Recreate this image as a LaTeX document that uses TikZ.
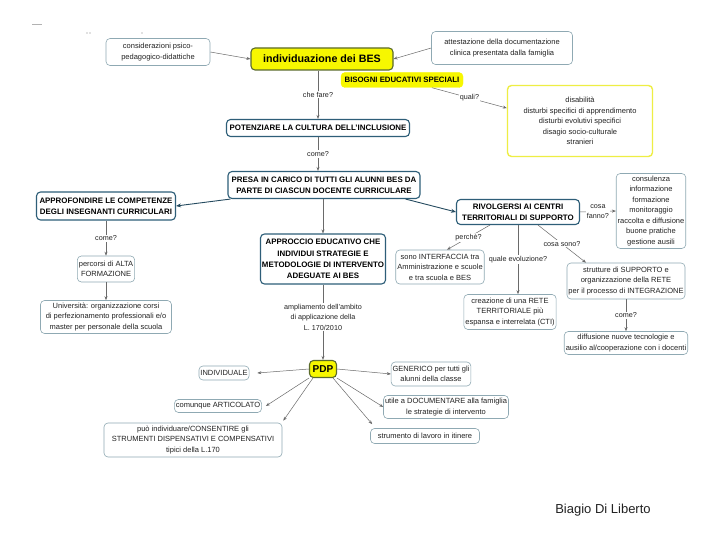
\documentclass[tikz,border=0pt]{standalone}
\usepackage{fontspec}
\setmainfont{Liberation Sans}
\usetikzlibrary{arrows.meta}
\definecolor{boxline}{HTML}{8FA9B3}
\definecolor{headline}{HTML}{2E5E78}
\definecolor{yel}{HTML}{F7F700}
\definecolor{yelline}{HTML}{5B6B2C}
\definecolor{yelborder}{HTML}{EEEE44}
\definecolor{conncol}{HTML}{6A6A6A}
\definecolor{txt}{HTML}{222222}
\begin{document}
\begin{tikzpicture}[x=1pt,y=-1pt,
 sbox/.style={draw=boxline, line width=0.6pt, rounded corners=4pt, fill=white, align=center, text=txt, font=\fontsize{7.5}{10.5}\selectfont, inner xsep=1.5pt, inner ysep=1.5pt},
 hbox/.style={draw=headline, line width=1.1pt, rounded corners=4pt, fill=white, align=center, text=black, font=\bfseries\fontsize{7.9}{11.2}\selectfont, inner xsep=1.5pt, inner ysep=1.5pt},
 ybox/.style={draw=yelline, line width=1.1pt, rounded corners=4pt, fill=yel, align=center, text=black, font=\bfseries\fontsize{10.7}{12}\selectfont, inner xsep=2pt, inner ysep=2pt},
 lbl/.style={fill=white, inner sep=1pt, text=txt, font=\fontsize{7.2}{10.5}\selectfont, align=center},
 conn/.style={draw=conncol, line width=0.5pt, -{Stealth[length=4pt,width=3pt]}},
 hconn/.style={draw=headline!80!black, line width=0.9pt, -{Stealth[length=5pt,width=4pt]}},
]
\useasboundingbox (0,0) rectangle (720,540);
\fill[white] (0,0) rectangle (720,540);
% small marks top left
\draw[gray!60, line width=0.5pt] (32,24) -- (42,24);
\fill[gray] (87,33) circle (0.6) (90,33) circle (0.6) (142,33) circle (0.6);

\node[sbox, minimum width=104, minimum height=27] (cons) at (158,52) {considerazioni psico-\\pedagogico-didattiche};
\node[ybox, minimum width=142, minimum height=22] (ind) at (322,59) {individuazione dei BES};
\node[sbox, minimum width=141, minimum height=33] (att) at (502,48) {attestazione della documentazione\\clinica presentata dalla famiglia};
\node[fill=yel, draw=yel, rounded corners=4pt, minimum width=122, minimum height=15, inner sep=1pt, font=\bfseries\fontsize{7.8}{9}\selectfont] (bis) at (402,80) {BISOGNI EDUCATIVI SPECIALI};
\node[sbox, draw=yelborder, line width=1.4pt, minimum width=145, minimum height=71] (dis) at (580,121) {disabilità\\disturbi specifici di apprendimento\\disturbi evolutivi specifici\\disagio socio-culturale\\stranieri};
\node[hbox, minimum width=183, minimum height=17] (pot) at (318,128) {POTENZIARE LA CULTURA DELL'INCLUSIONE};
\node[hbox, minimum width=192, minimum height=27] (pre) at (324,185) {PRESA IN CARICO DI TUTTI GLI ALUNNI BES DA\\PARTE DI CIASCUN DOCENTE CURRICULARE};
\node[hbox, minimum width=139, minimum height=28] (appr) at (106,206) {APPROFONDIRE LE COMPETENZE\\DEGLI INSEGNANTI CURRICULARI};
\node[sbox, minimum width=56, minimum height=26] (perc) at (106,269) {percorsi di ALTA\\FORMAZIONE};
\node[sbox, minimum width=131, minimum height=33] (uni) at (106,317) {Università: organizzazione corsi\\di perfezionamento professionali e/o\\master per personale della scuola};
\node[hbox, minimum width=125, minimum height=50] (acc) at (323,259) {APPROCCIO EDUCATIVO CHE\\INDIVIDUI STRATEGIE E\\METODOLOGIE DI INTERVENTO\\ADEGUATE AI BES};
\node[ybox, font=\bfseries\fontsize{10}{11}\selectfont, minimum width=27, minimum height=17] (pdp) at (323,369) {PDP};
\node[hbox, minimum width=123, minimum height=25] (riv) at (518,212) {RIVOLGERSI AI CENTRI\\TERRITORIALI DI SUPPORTO};
\node[sbox, minimum width=69, minimum height=75] (cst) at (651,211) {consulenza\\informazione\\formazione\\monitoraggio\\raccolta e diffusione\\buone pratiche\\gestione ausili};
\node[sbox, minimum width=86, minimum height=34] (intf) at (440,267) {sono INTERFACCIA tra\\Amministrazione e scuole\\e tra scuola e BES};
\node[sbox, minimum width=85, minimum height=35] (cre) at (510,312) {creazione di una RETE\\TERRITORIALE più\\espansa e interrelata (CTI)};
\node[sbox, minimum width=115, minimum height=36] (strt) at (626,281) {strutture di SUPPORTO e\\organizzazione della RETE\\per il processo di INTEGRAZIONE};
\node[sbox, minimum width=116, minimum height=23] (dif) at (626,343) {diffusione nuove tecnologie e\\ausilio al/cooperazione con i docenti};
\node[sbox, minimum width=47, minimum height=14] (indiv) at (224,373) {INDIVIDUALE};
\node[sbox, minimum width=84, minimum height=13] (art) at (218,406) {comunque ARTICOLATO};
\node[sbox, minimum width=178, minimum height=34] (puo) at (193,440) {può individuare/CONSENTIRE gli\\STRUMENTI DISPENSATIVI E COMPENSATIVI\\tipici della L.170};
\node[sbox, minimum width=78, minimum height=24] (gen) at (431,374) {GENERICO per tutti gli\\alunni della classe};
\node[sbox, minimum width=117, minimum height=23] (uti) at (446,407) {utile a DOCUMENTARE alla famiglia\\le strategie di intervento};
\node[sbox, minimum width=109, minimum height=15] (strum) at (425,436) {strumento di lavoro in itinere};
\node[font=\fontsize{13}{15}\selectfont, text=txt] (auth) at (603,510) {Biagio Di Liberto};

% connectors
\draw[conn] (cons.east) -- (ind.west);
\draw[conn] (att.west) -- (ind.east);
\draw[conn] ([xshift=-4pt]ind.south) -- node[lbl]{che fare?} (pot.north);
\draw[conn] ([xshift=30pt]bis.south) -- node[lbl]{quali?} (dis.170);
\draw[conn] (pot.south) -- node[lbl]{come?} (pot.south |- pre.north);
\draw[hconn] ([xshift=3pt]pre.south west) -- (appr.east);
\draw[conn] (appr.south) -- node[lbl]{come?} (perc.north);
\draw[conn] (perc.south) -- (uni.north);
\draw[conn] (pre.south -| acc.north) -- (acc.north);
\draw[conn] (acc.south) -- node[lbl, pos=0.43]{ampliamento dell'ambito\\di applicazione della\\L. 170/2010} (pdp.north);
\draw[hconn] ([xshift=-15pt]pre.south east) -- (riv.west);
\draw[conn] (riv.east) -- node[lbl]{cosa\\fanno?} (cst.west);
\draw[conn] ([xshift=-28pt]riv.south) -- node[lbl]{perchè?} ([xshift=7pt]intf.north);
\draw[conn] (riv.south) -- node[lbl]{quale evoluzione?} (riv.south |- cre.north);
\draw[conn] ([xshift=20pt]riv.south) -- node[lbl]{cosa sono?} ([xshift=-40pt]strt.north);
\draw[conn] (strt.south) -- node[lbl]{come?} (dif.north);
\draw[conn] (pdp.west) -- ([xshift=8pt]indiv.east);
\draw[conn] (pdp.south west) -- ([xshift=4pt]art.east);
\draw[conn] ([xshift=4pt]pdp.south west) -- ([xshift=1pt,yshift=2pt]puo.north east);
\draw[conn] (pdp.east) -- (gen.west);
\draw[conn] (pdp.south east) -- (uti.west);
\draw[conn] ([xshift=-4pt]pdp.south east) -- ([xshift=2pt,yshift=4pt]strum.north west);
\end{tikzpicture}
\end{document}
